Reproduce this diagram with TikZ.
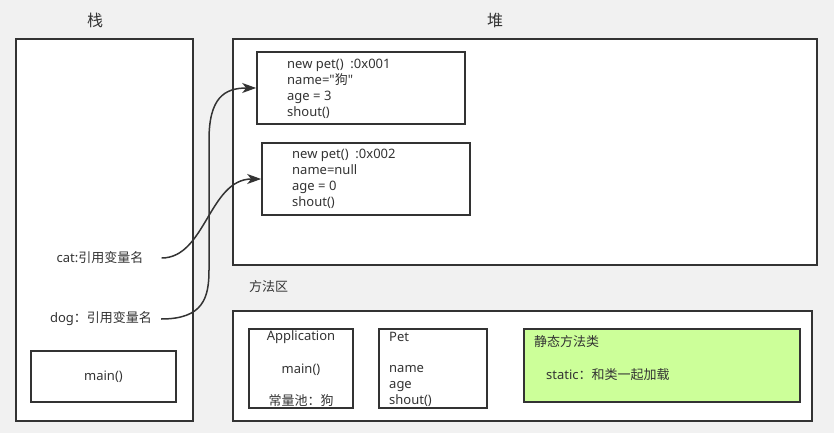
\documentclass[tikz,border=0pt]{standalone}
\usepackage{fontspec}
\setmainfont{Noto Sans}[Ligatures=TeXOff]
\newfontfamily\cjk{Noto Sans CJK SC}
\usepackage{xcolor}
\usetikzlibrary{positioning,arrows.meta}
\definecolor{bggray}{HTML}{F1F1F1}
\definecolor{linegray}{HTML}{333333}
\definecolor{staticgreen}{HTML}{CCFF99}

\begin{document}
\begin{tikzpicture}[x=1pt,y=-1pt,
  area/.style={draw=linegray,line width=1.7pt,fill=white},
  box/.style={draw=linegray,line width=1.7pt,fill=white,inner sep=0pt,text=linegray,font=\fontsize{13}{16}\selectfont},
  txt/.style={text=linegray,font=\fontsize{13}{16}\selectfont,inner sep=0pt,align=left},
  title/.style={text=linegray,font=\fontsize{16}{18}\selectfont\cjk,inner sep=0pt},
  ptr/.style={draw=linegray,line width=1.5pt,-{Stealth[length=14pt,width=10pt,inset=4pt]}}]
\fill[bggray] (0,0) rectangle (834,433);

% stack
\node[title] at (95,20) {栈};
\draw[area] (16,39) rectangle (193,421);
\node[txt] (cat) at (100,258) {cat:{\cjk 引用变量名}};
\node[txt] (dog) at (101,319) {dog{\cjk ：引用变量名}};
\node[box,minimum width=145,minimum height=51] (mainf) at (103.5,376.5) {main()};

% heap
\node[title] at (495,20) {堆};
\draw[area] (233,39) rectangle (817,265);
\node[box,minimum width=208,minimum height=72] (pet1) at (361,88) {};
\node[txt,anchor=west] at (287,88.5) {new pet()~~:0x001\\name="{\cjk 狗}"\\age = 3\\shout()};
\node[box,minimum width=208,minimum height=72] (pet2) at (366,179) {};
\node[txt,anchor=west] at (292,179) {new pet()~~:0x002\\name=null\\age = 0\\shout()};

% method area
\node[txt,anchor=west,font=\fontsize{13}{16}\selectfont\cjk] at (249,287) {方法区};
\draw[area] (233,311) rectangle (812,421);
\node[box,minimum width=104,minimum height=79] (app) at (301,368.5) {};
\node[txt] at (301,337) {Application};
\node[txt] at (301,370) {main()};
\node[txt,font=\fontsize{13}{16}\selectfont\cjk] at (301,401) {常量池：狗};
\node[box,minimum width=108,minimum height=79] (petcls) at (433,368.5) {};
\node[txt,anchor=west] at (389,337) {Pet};
\node[txt,anchor=west] at (389,386) {name\\age\\shout()};
\node[box,fill=staticgreen,minimum width=276,minimum height=73] (static) at (662,365.5) {};
\node[txt,anchor=west,font=\fontsize{13}{16}\selectfont\cjk] at (534,342) {静态方法类};
\node[txt,anchor=west] at (546,375) {static{\cjk ：和类一起加载}};

% references
\draw[ptr] ([xshift=18]cat.east) .. controls +(44,0) and +(-52,0) .. (pet2.west);
\draw[ptr] ([xshift=9]dog.east) .. controls +(42,0) and +(0,28) .. (209,270)
  -- (209,140) .. controls +(0,-42) and +(-32,0) .. (pet1.west);
\end{tikzpicture}
\end{document}
